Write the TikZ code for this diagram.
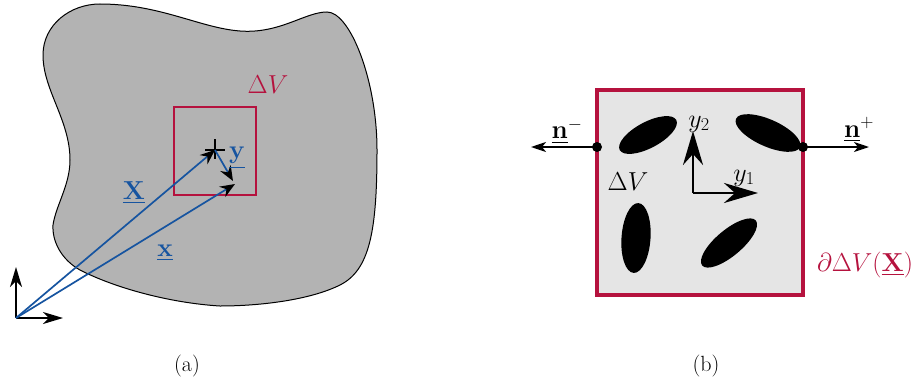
\RequirePackage{fix-cm}
\documentclass[tikz,border=0pt]{standalone}
\usepackage{amsmath}
\usetikzlibrary{arrows.meta}
\definecolor{myred}{RGB}{181,18,62}
\definecolor{myblue}{RGB}{22,84,160}
\definecolor{blobgray}{RGB}{179,179,179}
\definecolor{boxgray}{RGB}{229,229,229}
\begin{document}
\begin{tikzpicture}[x=1pt,y=-1pt,
  lab/.style={font=\fontsize{26}{30}\selectfont, inner sep=0pt},
  captxt/.style={font=\fontsize{22}{24}\selectfont, inner sep=0pt},
  smallaxis/.style={line width=1.6pt, -{Stealth[length=20pt,width=12pt,inset=6pt]}},
  bigaxis/.style={line width=2.8pt, -{Stealth[length=34pt,width=20pt,inset=11pt]}},
  normalvec/.style={line width=2pt, -{Stealth[length=15pt,width=10pt,inset=4pt]}},
  posvec/.style={myblue, line width=1.7pt, -{Stealth[length=15pt,width=12pt,inset=5pt,color=black]}},
  incl/.style={fill=black, draw=none},
]
\useasboundingbox (0,0) rectangle (917,380);

% ---------- (a) ----------
\draw[fill=blobgray, line width=1pt]
  (43,55) .. controls (43,25) and (70,4) .. (100,4)
  .. controls (160,4) and (200,28) .. (240,31)
  .. controls (280,34) and (305,12) .. (327,12)
  .. controls (350,12) and (377,80) .. (377,150)
  .. controls (377,230) and (370,270) .. (340,285)
  .. controls (310,300) and (260,306) .. (220,306)
  .. controls (170,303) and (115,288) .. (80,270)
  .. controls (62,260) and (52,242) .. (53,225)
  .. controls (56,205) and (70,185) .. (70,160)
  .. controls (70,120) and (43,90) .. cycle;
\node[draw=myred, line width=2.6pt, minimum width=82pt, minimum height=88pt, inner sep=0pt] (dv) at (215,151) {};
\node[lab, text=myred] (dvlab) at (268,85) {$\Delta V$};

\coordinate (o) at (16,318);
\coordinate (e1) at (63,318);
\coordinate (e2) at (16,267);
\draw[smallaxis] (o) -- (e1);
\draw[smallaxis] (o) -- (e2);

\coordinate (cX) at (215,150);
\coordinate (cx) at (235,184);
\coordinate (cy) at (233,181);
\draw[line width=2pt] (205,150) -- (225,150) (215,139) -- (215,159);
\draw[posvec] (o) -- (cX);
\draw[posvec] (o) -- (cx);
\draw[posvec] (cX) -- (cy);
\node[lab, text=myblue] (Xlab) at (134,193) {$\underline{\mathbf{X}}$};
\node[lab, text=myblue] (xlab) at (165,253) {$\underline{\mathbf{x}}$};
\node[lab, text=myblue] (ylab) at (237,158) {$\underline{\mathbf{y}}$};

\node[captxt] (capa) at (187,366) {(a)};

% ---------- (b) ----------
\node[draw=myred, fill=boxgray, line width=3.6pt, minimum width=206pt, minimum height=205pt, inner sep=0pt] (box) at (700,192.5) {};
\coordinate (pl) at (597,147);
\coordinate (pr) at (803,147);
\coordinate (nl) at (531,147);
\coordinate (nr) at (869,147);
\draw[normalvec] (pl) -- (nl);
\draw[normalvec] (pr) -- (nr);
\fill (pl) circle (5pt);
\fill (pr) circle (5pt);
\node[lab] (nmlab) at (567,131) {$\underline{\mathbf{n}}^-$};
\node[lab] (nplab) at (859,130) {$\underline{\mathbf{n}}^+$};

\fill[incl, shift={(648,135)}, rotate=28] (0,0) ellipse [x radius=32, y radius=13];
\fill[incl, shift={(768,133)}, rotate=-24] (0,0) ellipse [x radius=35, y radius=13.5];
\fill[incl, shift={(636,238)}, rotate=-4] (0,0) ellipse [x radius=14.5, y radius=35];
\fill[incl, shift={(729,243)}, rotate=40] (0,0) ellipse [x radius=35, y radius=13];

\coordinate (bo) at (693,193);
\coordinate (by1) at (758,193);
\coordinate (by2) at (693,131);
\draw[bigaxis] (bo) -- (by1);
\draw[bigaxis] (bo) -- (by2);
\node[lab] (y1lab) at (744,178) {$y_1$};
\node[lab] (y2lab) at (699,124) {$y_2$};
\node[lab] (dvb) at (628,182) {$\Delta V$};
\node[lab, text=myred] (bnd) at (865,265) {$\partial\Delta V(\underline{\mathbf{X}})$};

\node[captxt] (capb) at (706,366) {(b)};
\end{tikzpicture}
\end{document}
